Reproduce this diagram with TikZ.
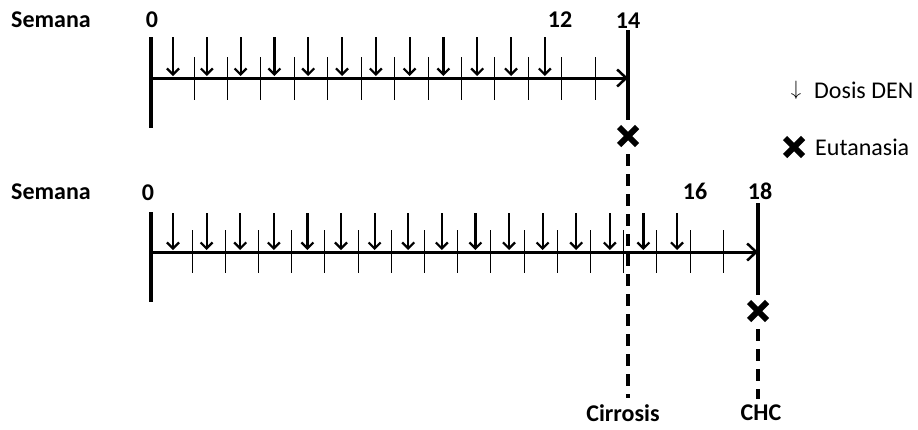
\documentclass[tikz,border=0pt]{standalone}
\usepackage{fontspec}
\setmainfont{Carlito}
\usetikzlibrary{arrows.meta, shapes.misc, positioning}

\begin{document}
\begin{tikzpicture}[x=1pt, y=-1pt,
        lbl/.style={font=\fontsize{24}{28}\selectfont\bfseries, inner sep=0pt},
        legend/.style={font=\fontsize{24}{28}\selectfont, inner sep=0pt, anchor=west},
        timeaxis/.style={line width=3pt, -{Straight Barb[length=9pt, width=17pt, line width=2.5pt]}},
        endbar/.style={line width=3.5pt},
        dose/.style={line width=2.2pt, -{Straight Barb[length=6pt, width=12pt, line width=2.2pt]}},
        tickmark/.style={line width=0.8pt},
        dashline/.style={line width=3.5pt, dash pattern=on 12pt off 8pt},
        kill/.style={cross out, draw, line width=6pt, minimum size=12pt, inner sep=0pt}
    ]
    \useasboundingbox (0,0) rectangle (918,429);

    % 14 semanas
    \node (semanaA) [lbl] at (51,20) {Semana};
    \node (wA0) [lbl] at (152,20) {0};
    \node (wA12) [lbl] at (560,20) {12};
    \node (wA14) [lbl] at (628,21) {14};
    \coordinate (a0top) at (151,37);
    \coordinate (a0bot) at (151,128);
    \coordinate (a0) at (151,78);
    \coordinate (a14) at (628,78);
    \coordinate (a14top) at (628,30);
    \coordinate (a14bot) at (628,120);
    \node (killA) [kill] at (628,136) {};
    \foreach \k in {1,...,13}
        \draw [tickmark] ({194+33.42*(\k-1)},57) -- ++(0,43);
    \foreach \k in {1,...,12}
        \draw [dose] ({173+33.8*(\k-1)},37) -- ++(0,39);
    \draw [endbar] (a0top) -- (a0bot);
    \draw [timeaxis] (a0) -- (a14);
    \draw [endbar] (a14top) -- (a14bot);

    % 18 semanas
    \node (semanaB) [lbl] at (51,192) {Semana};
    \node (wB0) [lbl] at (148,193) {0};
    \node (wB16) [lbl] at (695,191) {16};
    \node (wB18) [lbl] at (760,191) {18};
    \coordinate (b0top) at (151,212);
    \coordinate (b0bot) at (151,302);
    \coordinate (b0) at (151,252);
    \coordinate (b18) at (758,252);
    \coordinate (b18top) at (758,203);
    \coordinate (b18bot) at (758,295);
    \node (killB) [kill] at (758,311) {};
    \foreach \k in {1,...,17}
        \draw [tickmark] ({192+33.2*(\k-1)},230) -- ++(0,43);
    \foreach \k in {1,...,16}
        \draw [dose] ({173+33.6*(\k-1)},213) -- ++(0,37);
    \draw [endbar] (b0top) -- (b0bot);
    \draw [timeaxis] (b0) -- (b18);
    \draw [endbar] (b18top) -- (b18bot);

    % desenlaces
    \node (cirrosis) [lbl] at (623,413) {Cirrosis};
    \node (chc) [lbl] at (761,413) {CHC};
    \draw [dashline, shorten <=9pt, shorten >=6pt] (killA.south) -- (killA.south |- cirrosis.north);
    \draw [dashline, shorten <=9pt, shorten >=6pt] (killB.south) -- (killB.south |- chc.north);

    % leyenda
    \node (legdose) [inner sep=0pt] at (796,90) {\fontsize{20}{22}\selectfont$\downarrow$};
    \node (dosis) [legend] at (814,90) {Dosis DEN};
    \node (legkill) [kill] at (794,147) {};
    \node (eutanasia) [legend] at (815,147) {Eutanasia};
\end{tikzpicture}
\end{document}
